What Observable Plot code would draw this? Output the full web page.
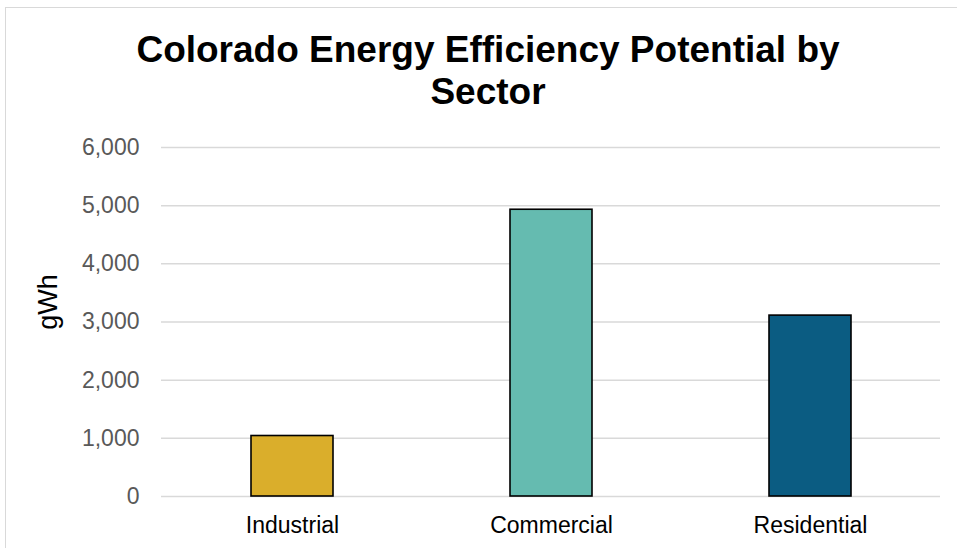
<!DOCTYPE html>
<html>
<head>
<meta charset="utf-8">
<script src="https://cdn.jsdelivr.net/npm/d3@7"></script>
<script src="https://cdn.jsdelivr.net/npm/@observablehq/plot@0.6"></script>
<style>
  html, body { margin: 0; padding: 0; background: #fff; overflow: hidden; }
  body { width: 957px; height: 548px; position: relative; font-family: "Liberation Sans", Arial, sans-serif; }
  #frame { position: absolute; left: 5px; top: 7px; width: 1000px; height: 600px; border: 1.5px solid #d9d9d9; box-sizing: border-box; }
  #title { position: relative; padding-top: 29px; height: 84px; line-height: 42px; font-size: 37px; font-weight: bold; color: #000; text-align: center; width: 976px; }
  #chart { position: relative; }
</style>
</head>
<body>
<div id="frame"></div>
<div id="title">Colorado Energy Efficiency Potential by<br>Sector</div>
<div id="chart"></div>
<script>
// Energy efficiency potential by sector, in gWh
const sectors = ["Industrial", "Commercial", "Residential"];
const potential = [1040, 4930, 3110];
const sectorColors = ["#DAAE2B", "#65BBB0", "#0B5C82"];
const yTicks = [0, 1000, 2000, 3000, 4000, 5000, 6000];
const yLabel = "gWh";

const data = sectors.map((sector, i) => ({sector, value: potential[i]}));

const chart = Plot.plot({
  width: 957,
  height: 435,
  marginTop: 34,
  marginBottom: 52,
  marginLeft: 161,
  marginRight: 17,
  style: {fontFamily: "'Liberation Sans', Arial, sans-serif", fontSize: "23px", background: "transparent"},
  x: {domain: sectors, paddingInner: 0.684, paddingOuter: 0.342, label: null, tickSize: 0, tickPadding: 20},
  y: {domain: [0, 6000], ticks: yTicks, tickFormat: d3.format(","), label: null, tickSize: 0, tickPadding: 22},
  color: {domain: sectors, range: sectorColors},
  marks: [
    Plot.gridY(yTicks, {stroke: "#d9d9d9", strokeOpacity: 1, strokeWidth: 1.5}),
    Plot.axisY({ticks: yTicks, tickFormat: d3.format(","), tickSize: 0, tickPadding: 22, color: "#595959", fontSize: 23, label: null}),
    Plot.axisX({tickSize: 0, tickPadding: 20, color: "#000", fontSize: 23, label: null}),
    Plot.barY(data, {x: "sector", y: "value", fill: "sector", stroke: "#000", strokeWidth: 1.6}),
    Plot.text([yLabel], {frameAnchor: "left", text: d => d, rotate: -90, textAnchor: "middle", dx: -113, dy: -20, fontSize: 27, fill: "#000"})
  ]
});
document.getElementById("chart").appendChild(chart);
</script>
</body>
</html>
